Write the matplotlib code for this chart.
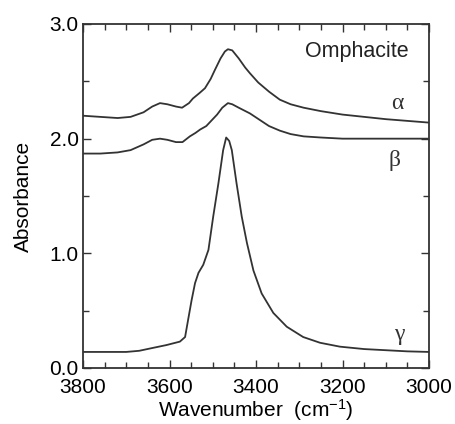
import numpy as np
import matplotlib
matplotlib.use('Agg')
import matplotlib.pyplot as plt
from matplotlib.ticker import MultipleLocator

plt.rcParams['font.family'] = ['Liberation Sans', 'DejaVu Sans']
plt.rcParams['mathtext.default'] = 'regular'

# spectra (wavenumber cm-1, absorbance)
wn_alpha = [3800, 3760, 3720, 3690, 3660, 3640, 3622, 3605, 3585, 3571, 3555, 3546,
            3530, 3518, 3505, 3495, 3482, 3472, 3465, 3455, 3440, 3425, 3414, 3395,
            3370, 3345, 3320, 3290, 3250, 3200, 3150, 3100, 3050, 3000]
abs_alpha = [2.20, 2.19, 2.18, 2.19, 2.23, 2.28, 2.31, 2.30, 2.28, 2.27, 2.31, 2.35,
             2.40, 2.44, 2.52, 2.60, 2.70, 2.76, 2.78, 2.77, 2.70, 2.62, 2.57, 2.49,
             2.41, 2.34, 2.30, 2.27, 2.24, 2.21, 2.19, 2.17, 2.155, 2.14]

wn_beta = [3800, 3760, 3720, 3690, 3660, 3640, 3622, 3605, 3585, 3570, 3553, 3540,
           3529, 3515, 3500, 3490, 3478, 3465, 3455, 3440, 3414, 3390, 3370, 3345,
           3320, 3290, 3250, 3200, 3100, 3000]
abs_beta = [1.87, 1.87, 1.88, 1.90, 1.95, 1.99, 2.00, 1.99, 1.97, 1.97, 2.02, 2.05,
            2.08, 2.11, 2.17, 2.21, 2.27, 2.31, 2.30, 2.27, 2.22, 2.16, 2.11, 2.07,
            2.04, 2.02, 2.01, 2.00, 2.00, 2.00]

wn_gamma = [3800, 3750, 3700, 3670, 3645, 3607, 3576, 3564, 3557, 3549, 3541, 3533,
            3522, 3510, 3499, 3487, 3476, 3469, 3462, 3456, 3445, 3433, 3421, 3406,
            3387, 3360, 3329, 3291, 3252, 3206, 3150, 3100, 3050, 3000]
abs_gamma = [0.14, 0.14, 0.14, 0.15, 0.17, 0.20, 0.23, 0.27, 0.42, 0.59, 0.74, 0.83,
             0.90, 1.03, 1.32, 1.61, 1.90, 2.01, 1.98, 1.90, 1.61, 1.32, 1.09, 0.85,
             0.65, 0.48, 0.36, 0.27, 0.22, 0.186, 0.165, 0.155, 0.145, 0.14]

line_col = '#333333'

fig = plt.figure(figsize=(4.55, 4.24), dpi=100)
ax = fig.add_axes([0.1824, 0.1321, 0.7606, 0.8113])

ax.plot(wn_alpha, abs_alpha, color=line_col, lw=1.3)
ax.plot(wn_beta, abs_beta, color=line_col, lw=1.3)
ax.plot(wn_gamma, abs_gamma, color=line_col, lw=1.3)

ax.set_xlim(3800, 3000)
ax.set_ylim(0.0, 3.0)

ax.xaxis.set_major_locator(MultipleLocator(200))
ax.xaxis.set_minor_locator(MultipleLocator(50))
ax.yaxis.set_major_locator(MultipleLocator(1.0))
ax.yaxis.set_minor_locator(MultipleLocator(0.5))
ax.yaxis.set_major_formatter(matplotlib.ticker.FormatStrFormatter('%.1f'))

ax.tick_params(which='both', direction='in', top=True, right=True,
               color=line_col, width=1.0, labelsize=15)
ax.tick_params(axis='x', pad=7)
ax.tick_params(axis='y', pad=3)
ax.tick_params(which='major', length=6)
ax.tick_params(which='minor', length=4)
for s in ax.spines.values():
    s.set_color(line_col)
    s.set_linewidth(1.3)

ax.set_xlabel('Wavenumber  (cm$^{-1}$)', fontsize=15, labelpad=0)
ax.set_ylabel('Absorbance', fontsize=15, labelpad=12)

ax.text(3167, 2.76, 'Omphacite', fontsize=15.5, ha='center', va='center', color='#222222')
ax.text(3074, 2.31, 'α', fontsize=17, family='Liberation Serif', ha='center', va='center', color='#333333')
ax.text(3080, 1.81, 'β', fontsize=17, family='Liberation Serif', ha='center', va='center', color='#333333')
ax.text(3070, 0.29, 'γ', fontsize=17, family='Liberation Serif', ha='center', va='center', color='#333333')

fig.savefig('out.png', dpi=100)
